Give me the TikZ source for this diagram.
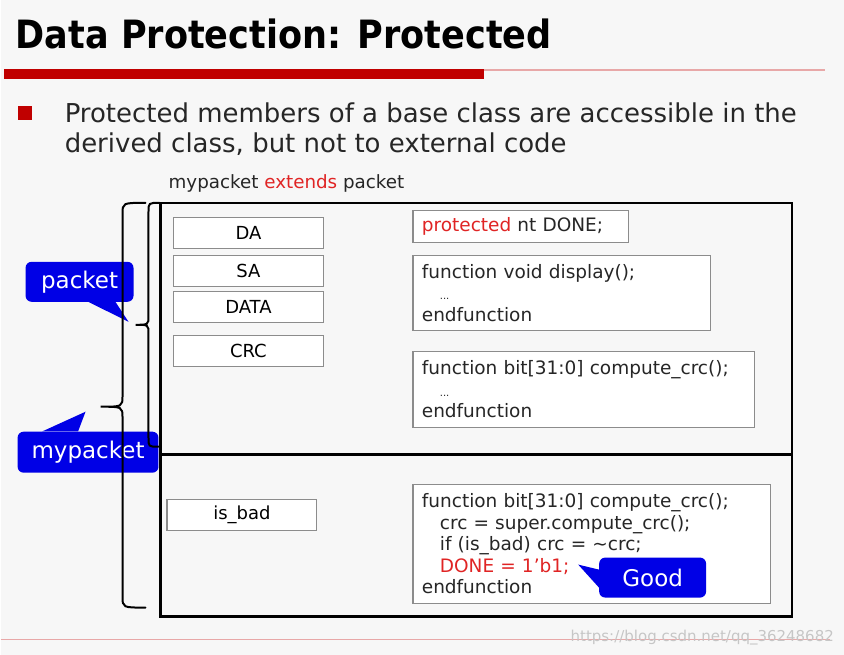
\documentclass[tikz,border=0pt]{standalone}
\usepackage{fontspec}
\setmainfont{DejaVu Sans}
\newfontfamily\titlefont{DejaVu Sans Condensed}
\usetikzlibrary{positioning}

\definecolor{bggray}{HTML}{F7F7F7}
\definecolor{barred}{HTML}{C00000}
\definecolor{linepink}{HTML}{E8A8A8}
\definecolor{txtred}{HTML}{E02424}
\definecolor{boxgray}{HTML}{8C8C8C}
\definecolor{callblue}{HTML}{0000E6}

\newcommand{\codefont}{\fontsize{18.5}{21.5}\selectfont}
\newcommand{\fieldfont}{\fontsize{18}{20}\selectfont}
\newcommand{\callfont}{\fontsize{23}{24}\selectfont}
\newcommand{\dotsline}{\hspace*{18pt}{\fontsize{10}{10}\selectfont...}}

\tikzset{
  field/.style={draw=boxgray, line width=1.2pt, fill=white, minimum width=150pt, minimum height=31pt, inner sep=0pt, font=\fieldfont},
  codebox/.style={draw=boxgray, line width=1.2pt, fill=white, anchor=north west, align=left, inner xsep=9pt, inner ysep=0pt, font=\codefont, text=black!85},
  callout/.style={fill=callblue, text=white, rounded corners=6pt, inner sep=0pt, font=\callfont},
  bracket/.style={line width=2pt, line cap=round},
}

\begin{document}
\begin{tikzpicture}[x=1pt, y=-1pt]
\fill[bggray] (0,0) rectangle (844,655);
%% heading
\node[anchor=base west, inner sep=0pt, font=\titlefont\bfseries\fontsize{39}{44}\selectfont] (title) at (15,49) {Data Protection: Protected};
\fill[barred] (3,69) rectangle (484,79);
\draw[linepink, line width=1.5pt] (484,70) -- (825,70);
\fill[barred] (17,106) rectangle (31,120);
\node[anchor=base west, inner sep=0pt, font=\fontsize{26}{30}\selectfont, text=black!85] (line1) at (64,123) {Protected members of a base class are accessible in the};
\node[anchor=base west, inner sep=0pt, font=\fontsize{26}{30}\selectfont, text=black!85] (line2) at (64,153) {derived class, but not to external code};
\node[anchor=base west, inner sep=0pt, font=\fontsize{18.3}{20}\selectfont, text=black!85] (ext) at (168,189) {mypacket {\color{txtred}extends} packet};

%% callouts
\node[callout, minimum width=108pt, minimum height=40pt] (pkt) at (79,282) {packet};
\coordinate (pkttip) at (128,322);
\fill[callblue] ([xshift=9pt]pkt.south) -- (pkttip) -- ([xshift=36pt]pkt.south) -- cycle;
\node[callout, minimum width=141pt, minimum height=41pt] (mypkt) at (87.5,452.5) {mypacket};
\coordinate (mypkttip) at (85,412);
\fill[callblue] ([xshift=-46pt]mypkt.north) -- (mypkttip) -- ([xshift=-10pt]mypkt.north) -- cycle;

%% braces
\draw[bracket] (145,203) .. controls (122,203) .. (122,214) -- (122,396)
  .. controls (122,407) .. (100,407) .. controls (122,407) .. (122,418)
  -- (122,597) .. controls (122,608) .. (145,608);
\draw[bracket] (159,203) .. controls (148,203) .. (148,212) -- (148,316)
  .. controls (148,325) .. (135,325) .. controls (148,325) .. (148,334)
  -- (148,438) .. controls (148,447) .. (158,447);

%% packet / mypacket box
\draw[line width=2.4pt] (160,203) rectangle (792,617);
\draw[line width=3pt] (160,455) -- (792,455);

\node[field] (da) at (248,233) {DA};
\node[field] (sa) at (248,271) {SA};
\node[field] (data) at (248,307.5) {DATA};
\node[field] (crc) at (248,351.5) {CRC};
\node[field] (bad) at (241.5,515.5) {is\_bad};

\node[codebox, text width=198pt, minimum height=32pt] (done) at (412,210) {{\color{txtred}protected} nt DONE;};
\node[codebox, text width=280pt, minimum height=75pt] (disp) at (412,255) {function void display();\\ \dotsline\\ endfunction};
\node[codebox, text width=324pt, minimum height=76pt] (comp) at (412,351) {function bit[31:0] compute\_crc();\\ \dotsline\\ endfunction};
\node[codebox, text width=340pt, minimum height=119pt] (ovr) at (412,484) {function bit[31:0] compute\_crc();\\
\hspace*{18pt}crc = super.compute\_crc();\\
\hspace*{18pt}if (is\_bad) crc = \textasciitilde crc;\\
\hspace*{18pt}{\color{txtred}DONE = 1'b1;}\\
endfunction};

\node[callout, minimum width=107pt, minimum height=40pt] (good) at (652.5,578) {Good};
\coordinate (goodtip) at (578,565);
\fill[callblue] ([yshift=-10pt]good.west) -- (goodtip) -- ([yshift=8pt]good.west) -- cycle;

%% footer
\draw[linepink, line width=1.2pt] (0,640) -- (830,640);
\node[anchor=base east, inner sep=0pt, font=\fontsize{15}{16}\selectfont, text=gray!45] (mark) at (834,642) {https://blog.csdn.net/qq\_36248682};
\end{tikzpicture}
\end{document}
